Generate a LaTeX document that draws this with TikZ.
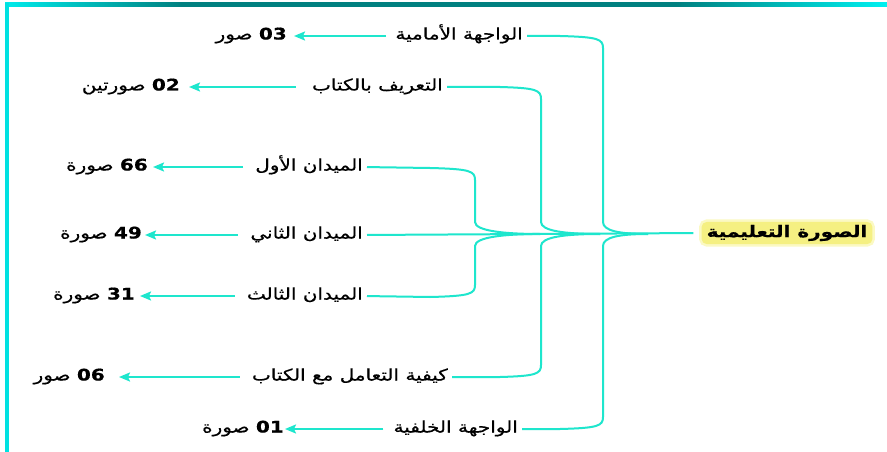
\documentclass[tikz,border=0pt]{standalone}
\usepackage{fontspec}
\setmainfont{DejaVu Sans}
\newfontfamily\arabicfont[Script=Arabic, FakeStretch=1.25, FakeBold=0.6]{DejaVu Sans}
\TeXXeTstate=1
\usetikzlibrary{arrows.meta}
\definecolor{conn}{RGB}{30,230,205}
\definecolor{barcyan}{RGB}{0,235,235}
\definecolor{barcyanb}{RGB}{0,240,240}
\definecolor{barteal}{RGB}{0,128,128}
\definecolor{sidecyan}{RGB}{0,225,225}
\definecolor{glowy}{RGB}{245,240,130}
\definecolor{glowy2}{RGB}{251,249,195}
\pgfdeclarehorizontalshading{topbar}{100bp}{color(0bp)=(barcyan); color(25bp)=(barcyan); color(35bp)=(barteal); color(63bp)=(barteal); color(75bp)=(barcyanb); color(100bp)=(barcyanb)}
\tikzset{
  conn/.style={draw=conn, line width=2pt},
  arr/.style={conn, -{Stealth[length=11pt,width=9pt,inset=2pt]}},
  lab/.style={font=\arabicfont\fontsize{16}{18}\selectfont, inner sep=0pt, text height=11pt, text depth=4pt, anchor=east},
  num/.style={font=\arabicfont\fontsize{16}{18}\selectfont, inner sep=0pt, text height=11pt, text depth=4pt, anchor=east},
  ttl/.style={font=\arabicfont\bfseries\fontsize{16}{18}\selectfont, inner xsep=5pt, inner ysep=3pt, fill=glowy, rounded corners=5pt,
     preaction={draw=glowy2, line width=5pt, rounded corners=6pt}}
}
\begin{document}
\begin{tikzpicture}[x=1pt,y=-1pt]
\useasboundingbox (0,0) rectangle (887,452);
\fill[white] (0,0) rectangle (887,452);
% frame
\shade[shading=topbar] (5,3) rectangle (887,7);
\fill[sidecyan] (5,3) rectangle (9,452);
% title
\node[ttl] (t) at (787,233) {\beginR الصورة التعليمية\endR};
% labels
\node[lab] (l1) at (523,36) {\beginR الواجهة الأمامية\endR};
\node[lab] (l2) at (443,87) {\beginR التعريف بالكتاب\endR};
\node[lab] (l3) at (363,167) {\beginR الميدان الأول\endR};
\node[lab] (l4) at (363,235) {\beginR الميدان الثاني\endR};
\node[lab] (l5) at (363,296) {\beginR الميدان الثالث\endR};
\node[lab] (l6) at (448,377) {\beginR كيفية التعامل مع الكتاب\endR};
\node[lab] (l7) at (518,429) {\beginR الواجهة الخلفية\endR};
% numbers
\node[num] (n1) at (287,36) {\beginR\beginL\textbf{03}\endL{} صور\endR};
\node[num] (n2) at (180,87) {\beginR\beginL\textbf{02}\endL{} صورتين\endR};
\node[num] (n3) at (148,167) {\beginR\beginL\textbf{66}\endL{} صورة\endR};
\node[num] (n4) at (142,235) {\beginR\beginL\textbf{49}\endL{} صورة\endR};
\node[num] (n5) at (135,296) {\beginR\beginL\textbf{31}\endL{} صورة\endR};
\node[num] (n6) at (105,377) {\beginR\beginL\textbf{06}\endL{} صور\endR};
\node[num] (n7) at (284,429) {\beginR\beginL\textbf{01}\endL{} صورة\endR};
% junction coordinates
\coordinate (j1) at (540,234);
\coordinate (j2) at (600,234);
\coordinate (j3) at (648,234);
% arrows
\draw[arr, shorten <=9pt, shorten >=7pt] (l1.west) -- (n1.east);
\draw[arr, shorten <=16pt, shorten >=9pt] (l2.west) -- (n2.east);
\draw[arr, shorten <=12pt, shorten >=5pt] (l3.west) -- (n3.east);
\draw[arr, shorten <=12pt, shorten >=3pt] (l4.west) -- (n4.east);
\draw[arr, shorten <=12pt, shorten >=5pt] (l5.west) -- (n5.east);
\draw[arr, shorten <=12pt, shorten >=14pt] (l6.west) -- (n6.east);
\draw[arr, shorten <=10pt, shorten >=1pt] (l7.west) -- (n7.east);
% center line
\draw[conn, shorten <=4pt, shorten >=8pt] (l4.east) -- (t.west);
% outer brace
\draw[conn, shorten <=4pt] (l1.east) -- (560,36) .. controls (598,37) and (603,39) .. (603,48) -- (603,222)
   .. controls (603,231) and (620,234) .. (j3);
\draw[conn, shorten <=4pt] (l7.east) -- (560,429) .. controls (598,428) and (603,426) .. (603,417) -- (603,246)
   .. controls (603,237) and (620,234) .. (j3);
% middle brace
\draw[conn, shorten <=4pt] (l2.east) -- (500,87) .. controls (536,88) and (541,90) .. (541,99) -- (541,222)
   .. controls (541,231) and (565,234) .. (j2);
\draw[conn, shorten <=4pt] (l6.east) -- (500,377) .. controls (536,376) and (541,374) .. (541,365) -- (541,246)
   .. controls (541,237) and (565,234) .. (j2);
% inner brace
\draw[conn, shorten <=4pt] (l3.east) -- (430,168) .. controls (470,169) and (475,171) .. (475,180) -- (475,222)
   .. controls (475,231) and (505,234) .. (j1);
\draw[conn, shorten <=4pt] (l5.east) -- (430,297) .. controls (470,296) and (475,294) .. (475,285) -- (475,246)
   .. controls (475,237) and (505,234) .. (j1);
\end{tikzpicture}
\end{document}
